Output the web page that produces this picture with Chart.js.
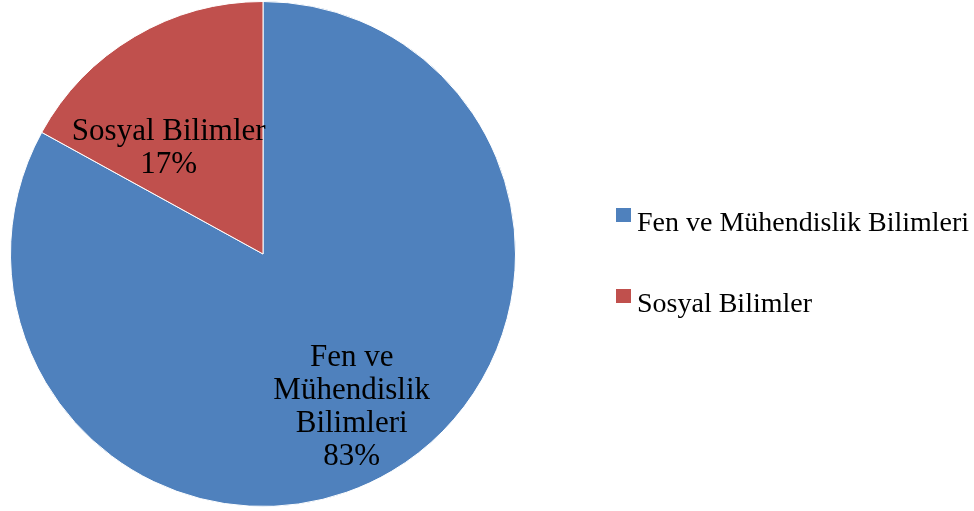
<!DOCTYPE html>
<html>
<head>
<meta charset="utf-8">
<script src="https://cdn.jsdelivr.net/npm/chart.js@4"></script>
<style>
  html, body { margin: 0; padding: 0; background: #fff; }
  #wrap { width: 974px; height: 511px; }
</style>
</head>
<body>
<div id="wrap"><canvas id="pieChart" width="974" height="511"></canvas></div>
<script>
// values
const categories = ['Fen ve Mühendislik Bilimleri', 'Sosyal Bilimler'];
const labelLines = [['Fen ve', 'Mühendislik', 'Bilimleri'], ['Sosyal Bilimler']];
const shares = [83, 17];
const colors = ['#4F81BD', '#C0504D'];

const serif = '"Liberation Serif", "Times New Roman", serif';

// label placement inside the slices: fraction of radius, angle nudge (rad)
const labelPlace = [
  { frac: 0.69, dAngle: 0 },
  { frac: 0.57, dAngle: -0.18 }
];

const sliceLabels = {
  id: 'sliceLabels',
  afterDatasetsDraw(chart) {
    const ctx = chart.ctx;
    const arcs = chart.getDatasetMeta(0).data;
    ctx.save();
    ctx.fillStyle = '#000';
    ctx.font = '31px ' + serif;
    ctx.textAlign = 'center';
    ctx.textBaseline = 'middle';
    arcs.forEach((arc, i) => {
      const p = labelPlace[i];
      const mid = (arc.startAngle + arc.endAngle) / 2 + p.dAngle;
      const r = arc.outerRadius * p.frac;
      const cx = arc.x + Math.cos(mid) * r;
      const cy = arc.y + Math.sin(mid) * r + 3;
      const lines = labelLines[i].concat([shares[i] + '%']);
      const lh = 33;
      const top = cy - (lines.length - 1) * lh / 2;
      lines.forEach((t, k) => ctx.fillText(t, cx, top + k * lh));
    });
    ctx.restore();
  }
};

const sideLegend = {
  id: 'sideLegend',
  afterDraw(chart) {
    const ctx = chart.ctx;
    ctx.save();
    ctx.font = '28px ' + serif;
    ctx.textBaseline = 'alphabetic';
    ctx.textAlign = 'left';
    chart.data.labels.forEach((lab, i) => {
      const y = 208 + i * 81;
      ctx.fillStyle = chart.data.datasets[0].backgroundColor[i];
      ctx.fillRect(616, y, 15, 14);
      ctx.fillStyle = '#000';
      ctx.fillText(lab, 637, y + 23);
    });
    ctx.restore();
  }
};

new Chart(document.getElementById('pieChart'), {
  type: 'pie',
  data: {
    labels: categories,
    datasets: [{
      data: shares,
      backgroundColor: colors,
      borderColor: '#ffffff',
      borderWidth: 1
    }]
  },
  options: {
    responsive: false,
    animation: false,
    layout: { padding: { left: 10, top: 1, right: 458, bottom: 4 } },
    plugins: {
      legend: { display: false },
      tooltip: { enabled: false }
    }
  },
  plugins: [sliceLabels, sideLegend]
});
</script>
</body>
</html>
